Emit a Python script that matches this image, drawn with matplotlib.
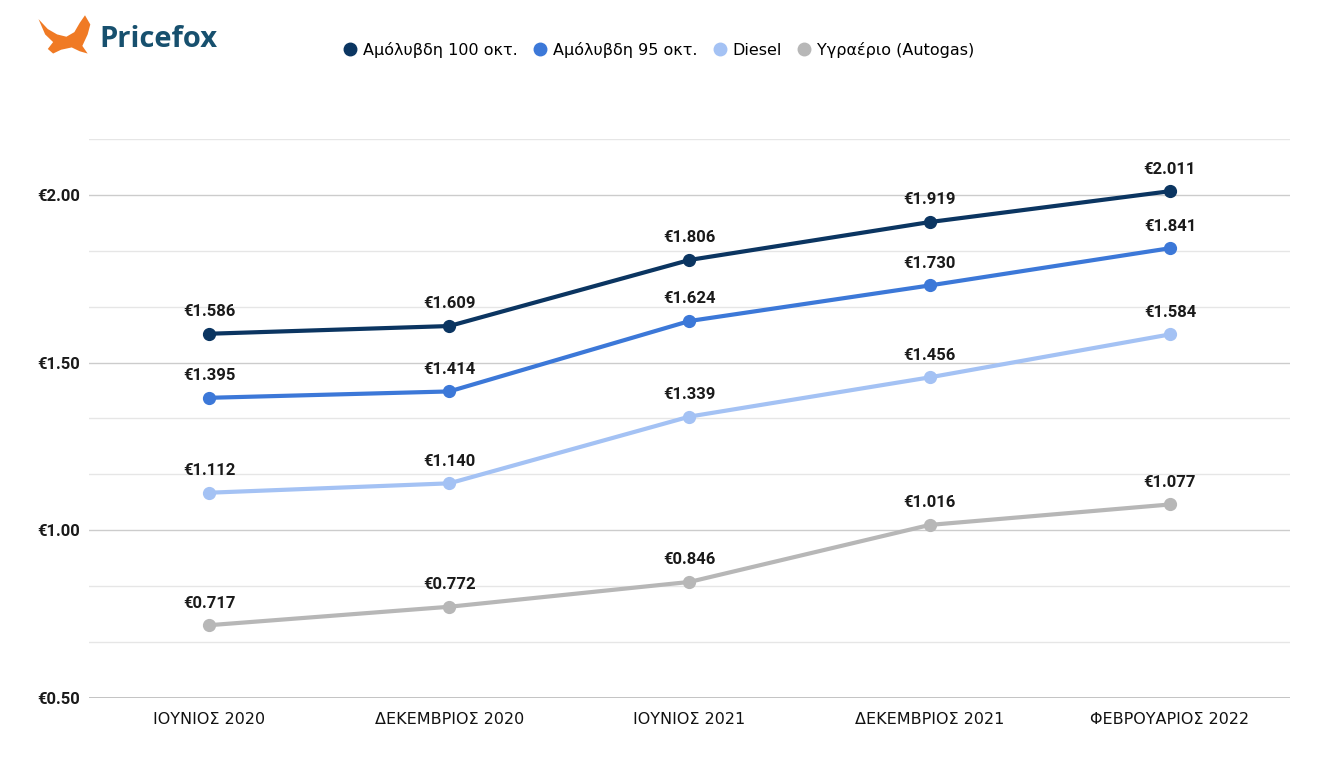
import matplotlib
matplotlib.use("Agg")
import matplotlib.pyplot as plt
from matplotlib.ticker import FixedLocator
from matplotlib.patches import Polygon

categories = ["ΙΟΥΝΙΟΣ 2020", "ΔΕΚΕΜΒΡΙΟΣ 2020", "ΙΟΥΝΙΟΣ 2021", "ΔΕΚΕΜΒΡΙΟΣ 2021", "ΦΕΒΡΟΥΑΡΙΟΣ 2022"]
unleaded100 = [1.586, 1.609, 1.806, 1.919, 2.011]
unleaded95 = [1.395, 1.414, 1.624, 1.730, 1.841]
diesel = [1.112, 1.140, 1.339, 1.456, 1.584]
autogas = [0.717, 0.772, 0.846, 1.016, 1.077]
series_names = ["Αμόλυβδη 100 οκτ.", "Αμόλυβδη 95 οκτ.", "Diesel", "Υγραέριο (Autogas)"]
colors = ["#0b3561", "#3c78d8", "#a4c2f4", "#b7b7b7"]
yticks = [0.5, 1.0, 1.5, 2.0]
ytick_labels = ["€0.50", "€1.00", "€1.50", "€2.00"]

fig = plt.figure(figsize=(13.28, 7.65), dpi=100)
ax = fig.add_axes([0.067, 0.0876, 0.9044, 0.7307])

x = [i + 0.5 for i in range(len(categories))]
for vals, name, c in zip([unleaded100, unleaded95, diesel, autogas], series_names, colors):
    ax.plot(x, vals, color=c, lw=3, marker="o", ms=8.5, label=name, zorder=3)
    for xi, v in zip(x, vals):
        ax.annotate(f"€{v:.3f}", (xi, v), xytext=(0, 10.5), textcoords="offset points",
                    ha="center", va="bottom", fontsize=12, fontweight="bold",
                    family="Roboto", color="#1a1a1a")

ax.set_xlim(0, 5)
ax.set_ylim(0.5, 2.5 - 1/3)
ax.yaxis.set_major_locator(FixedLocator(yticks))
ax.set_yticklabels(ytick_labels, fontsize=12, fontweight="bold", family="Roboto", color="#1a1a1a")
minor = [0.5 + i / 6 for i in range(11)]
ax.yaxis.set_minor_locator(FixedLocator(minor))
ax.grid(axis="y", which="major", color="#cccccc", lw=1)
ax.grid(axis="y", which="minor", color="#e6e6e6", lw=1)
ax.set_xticks(x)
ax.set_xticklabels(categories, fontsize=11.5, family="DejaVu Sans", color="#111111")
ax.tick_params(axis="both", which="both", length=0)
ax.tick_params(axis="x", pad=10)
ax.tick_params(axis="y", pad=6.5)
for s in ax.spines.values():
    s.set_visible(False)
ax.axhline(0.5, color="#bbbbbb", lw=1.2, zorder=2)

leg = fig.legend(loc="center", bbox_to_anchor=(0.497, 0.935), ncol=4, frameon=False,
                 fontsize=11.5, handlelength=0.6, handletextpad=0.5, columnspacing=1.1)
for h in leg.legend_handles:
    h.set_linestyle("none")
    h.set_markersize(9)

fig.text(0.075, 0.949, "Pricefox", fontsize=21, fontweight="bold", color="#17506e",
         family="Open Sans", va="center", ha="left")
# simple fox-like silhouette for the logo
fox = Polygon([[0.029, 0.975], [0.036, 0.962], [0.043, 0.955], [0.050, 0.952],
               [0.056, 0.958], [0.060, 0.970], [0.064, 0.980], [0.068, 0.968],
               [0.066, 0.955], [0.062, 0.940], [0.066, 0.930], [0.060, 0.933],
               [0.054, 0.938], [0.046, 0.935], [0.040, 0.930], [0.036, 0.936],
               [0.040, 0.945], [0.034, 0.955]],
              closed=True, transform=fig.transFigure, facecolor="#f07a24", edgecolor="none")
fig.patches.append(fox)

fig.savefig("out.png", dpi=100)
